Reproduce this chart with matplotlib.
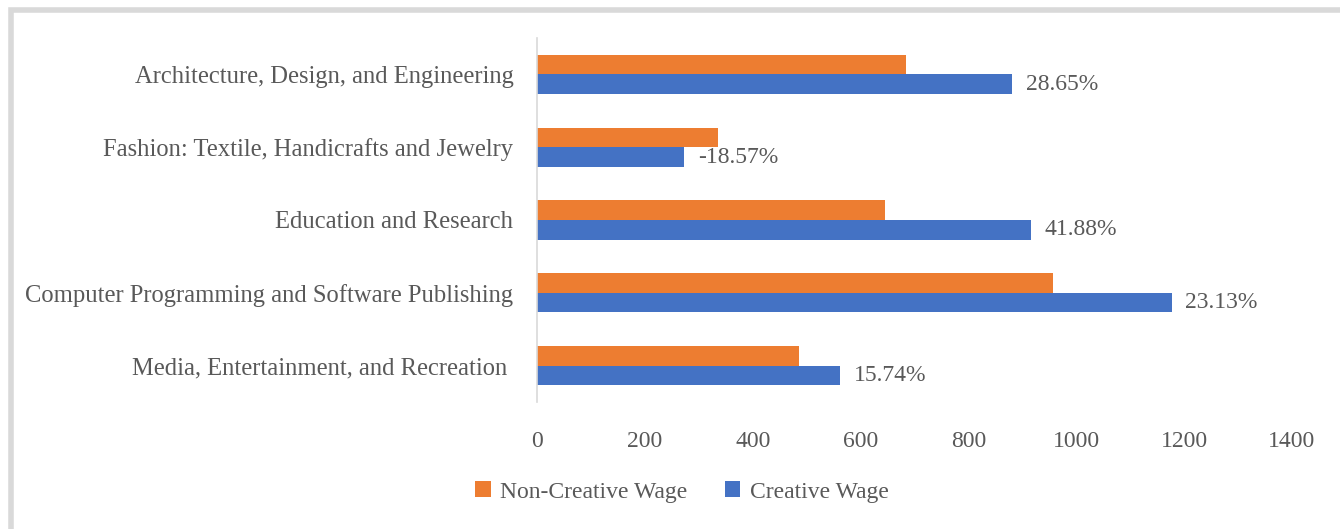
import matplotlib.pyplot as plt
from matplotlib.patches import Rectangle

# Data
categories = [
    "Media, Entertainment, and Recreation ",
    "Computer Programming and Software Publishing",
    "Education and Research",
    "Fashion: Textile, Handicrafts and Jewelry",
    "Architecture, Design, and Engineering",
]
creative_wage = [562, 1177, 916, 273, 881]
non_creative_wage = [485, 956, 646, 336, 685]
growth_labels = ["15.74%", "23.13%", "41.88%", "-18.57%", "28.65%"]

blue = "#4472C4"
orange = "#ED7D31"
text_color = "#595959"

plt.rcParams['font.family'] = ['Liberation Serif', 'DejaVu Serif']

fig = plt.figure(figsize=(13.4, 5.29), dpi=100)
ax = fig.add_axes([537 / 1340, 1 - 402 / 529, (1292 - 537) / 1340, (402 - 38) / 529])

# light gray frame around the chart (only top and left edges visible)
fig.patches.append(Rectangle((10.5 / 1340, -0.5), 2, 1 - 10.5 / 529 + 0.5,
                             transform=fig.transFigure, fill=False,
                             edgecolor="#d9d9d9", linewidth=4))

ypos = list(range(len(categories)))
h = 0.27
ax.barh([y - h / 2 for y in ypos], creative_wage, height=h, color=blue, label="Creative Wage")
ax.barh([y + h / 2 for y in ypos], non_creative_wage, height=h, color=orange, label="Non-Creative Wage")

for y, v, lab in zip(ypos, creative_wage, growth_labels):
    ax.text(v + 25, y - h / 2, lab, va="center", ha="left", fontsize=17, color=text_color)

ax.set_xlim(0, 1400)
ax.set_ylim(-0.5, 4.5)
ax.set_xticks(range(0, 1401, 200))
ax.set_yticks(ypos)
ax.set_yticklabels(categories)
ax.tick_params(axis="both", length=0, labelsize=17, colors=text_color)
ax.tick_params(axis="x", pad=21)
ax.tick_params(axis="y", pad=17, labelsize=17.7)

for s in ["top", "right", "bottom"]:
    ax.spines[s].set_visible(False)
ax.spines["left"].set_color("#d9d9d9")
ax.spines["left"].set_linewidth(1.2)

handles, labels = ax.get_legend_handles_labels()
leg = fig.legend(handles[::-1], labels[::-1], loc="center", bbox_to_anchor=(682 / 1340, 1 - 492 / 529),
                 ncol=2, frameon=False, fontsize=17, handlelength=0.65, handleheight=0.65,
                 handletextpad=0.4, columnspacing=1.6)
for t in leg.get_texts():
    t.set_color(text_color)

fig.savefig("out.png", dpi=100)
